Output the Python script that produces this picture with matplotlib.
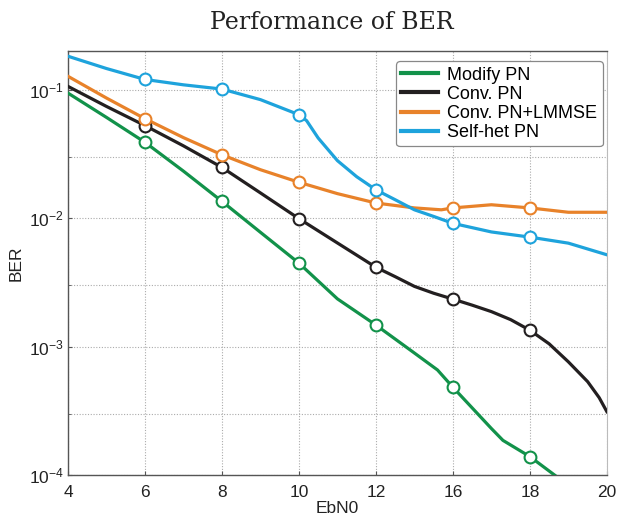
import matplotlib
matplotlib.use("Agg")
import matplotlib.pyplot as plt
import numpy as np

plt.rcParams['font.family'] = ['Liberation Sans', 'DejaVu Sans']
plt.rcParams['mathtext.default'] = 'regular'

# category tick labels (EbN0 values, evenly spaced on the axis)
ebn0_labels = ['4', '6', '8', '10', '12', '16', '18', '20']

# curve samples: x given as position along the category axis (0 -> "4", 7 -> "20")
modify_x = [0, 0.5, 1, 1.5, 2, 2.5, 3, 3.5, 4, 4.5, 4.8, 5, 5.5, 5.65, 6, 6.5]
modify_y = [0.094, 0.0608, 0.0389, 0.0232, 0.0135, 0.00775, 0.00446, 0.00235,
            0.00147, 0.00089, 0.000657, 0.000482, 0.00023, 0.000186, 0.000139, 0.000083]

conv_x = [0, 0.5, 1, 1.5, 2, 2.5, 3, 3.5, 4, 4.25, 4.5, 4.75, 5, 5.25, 5.5, 5.75, 6,
          6.25, 6.5, 6.75, 6.9, 7]
conv_y = [0.106, 0.074, 0.0525, 0.0365, 0.0248, 0.0157, 0.0099, 0.0064, 0.00414,
          0.0035, 0.00294, 0.0026, 0.00234, 0.0021, 0.00187, 0.00162, 0.00134,
          0.00105, 0.00076, 0.000533, 0.0004, 0.000311]

lmmse_x = [0, 0.5, 1, 1.5, 2, 2.5, 3, 3.5, 4, 4.5, 4.85, 5, 5.5, 6, 6.5, 7]
lmmse_y = [0.127, 0.086, 0.0594, 0.0423, 0.0311, 0.0238, 0.019, 0.0155, 0.0131,
           0.012, 0.0116, 0.012, 0.0127, 0.012, 0.0111, 0.0111]

selfhet_x = [0, 0.5, 1, 1.5, 2, 2.5, 3, 3.1, 3.25, 3.5, 3.75, 4, 4.25, 4.5, 4.75,
             5, 5.5, 6, 6.5, 7]
selfhet_y = [0.182, 0.146, 0.120, 0.109, 0.101, 0.0836, 0.0638, 0.0573, 0.042, 0.028,
             0.021, 0.0166, 0.0139, 0.0116, 0.0103, 0.0091, 0.0078, 0.00711, 0.00638, 0.00518]

series = [
    ("Modify PN", modify_x, modify_y, "#12924a"),
    ("Conv. PN", conv_x, conv_y, "#231f20"),
    ("Conv. PN+LMMSE", lmmse_x, lmmse_y, "#e8822a"),
    ("Self-het PN", selfhet_x, selfhet_y, "#1ea3dc"),
]

fig = plt.figure(figsize=(6.18, 5.19), dpi=100)
ax = fig.add_axes([0.110, 0.0848, 0.872, 0.817])

for label, xs, ys, col in series:
    xs = np.asarray(xs, float)
    ys = np.asarray(ys, float)
    ax.plot(xs, ys, color=col, lw=2.3, label=label, zorder=3, solid_joinstyle='round')
    mask = (np.abs(xs - np.round(xs)) < 1e-9) & (xs >= 1) & (xs <= 6)
    ax.plot(xs[mask], ys[mask], 'o', ms=8.5, mfc='white', mec=col, mew=1.5,
            zorder=4, label='_nolegend_')

ax.set_yscale('log')
ax.set_ylim(1e-4, 0.2)
ax.set_xlim(0, 7)
ax.set_xticks(range(len(ebn0_labels)))
ax.set_xticklabels(ebn0_labels)
ax.set_yticks([1e-4, 1e-3, 1e-2, 1e-1])
ax.set_yticklabels([r'$10^{-4}$', r'$10^{-3}$', r'$10^{-2}$', r'$10^{-1}$'])
ax.set_yticks([3e-4, 3e-3, 3e-2], minor=True)
ax.yaxis.set_minor_formatter(matplotlib.ticker.NullFormatter())

ax.tick_params(axis='both', which='both', direction='in', labelsize=12.5,
               colors='#555555', labelcolor='#222222')
ax.tick_params(axis='x', pad=7, length=3)
ax.tick_params(axis='y', which='major', pad=3, length=3)
ax.tick_params(axis='y', which='minor', length=2)

ax.grid(True, which='major', axis='both', ls=(0, (1, 1.5)), color='#ababab', lw=0.8)
ax.grid(True, which='minor', axis='y', ls=(0, (1, 1.5)), color='#ababab', lw=0.8)

for s in ['left', 'bottom', 'top']:
    ax.spines[s].set_color('#555555')
    ax.spines[s].set_linewidth(1.0)
ax.spines['right'].set_color('#bbbbbb')

ax.set_xlabel('EbN0', fontsize=12.5, labelpad=1, color='#222222')
ax.set_ylabel('BER', fontsize=12.5, labelpad=4, color='#222222')

fig.suptitle('Performance of BER', x=0.537, y=0.978, fontsize=17,
             family='DejaVu Serif', color='#222222')

leg = ax.legend(loc='upper right', bbox_to_anchor=(0.9926, 0.976), borderaxespad=0,
                fontsize=13, handlelength=2.0, handletextpad=0.55, labelspacing=0.12,
                borderpad=0.3, fancybox=True, framealpha=1, edgecolor='#888888')
leg.get_frame().set_linewidth(0.9)
for ln in leg.get_lines():
    ln.set_linewidth(3)

fig.savefig('out.png', dpi=100)
